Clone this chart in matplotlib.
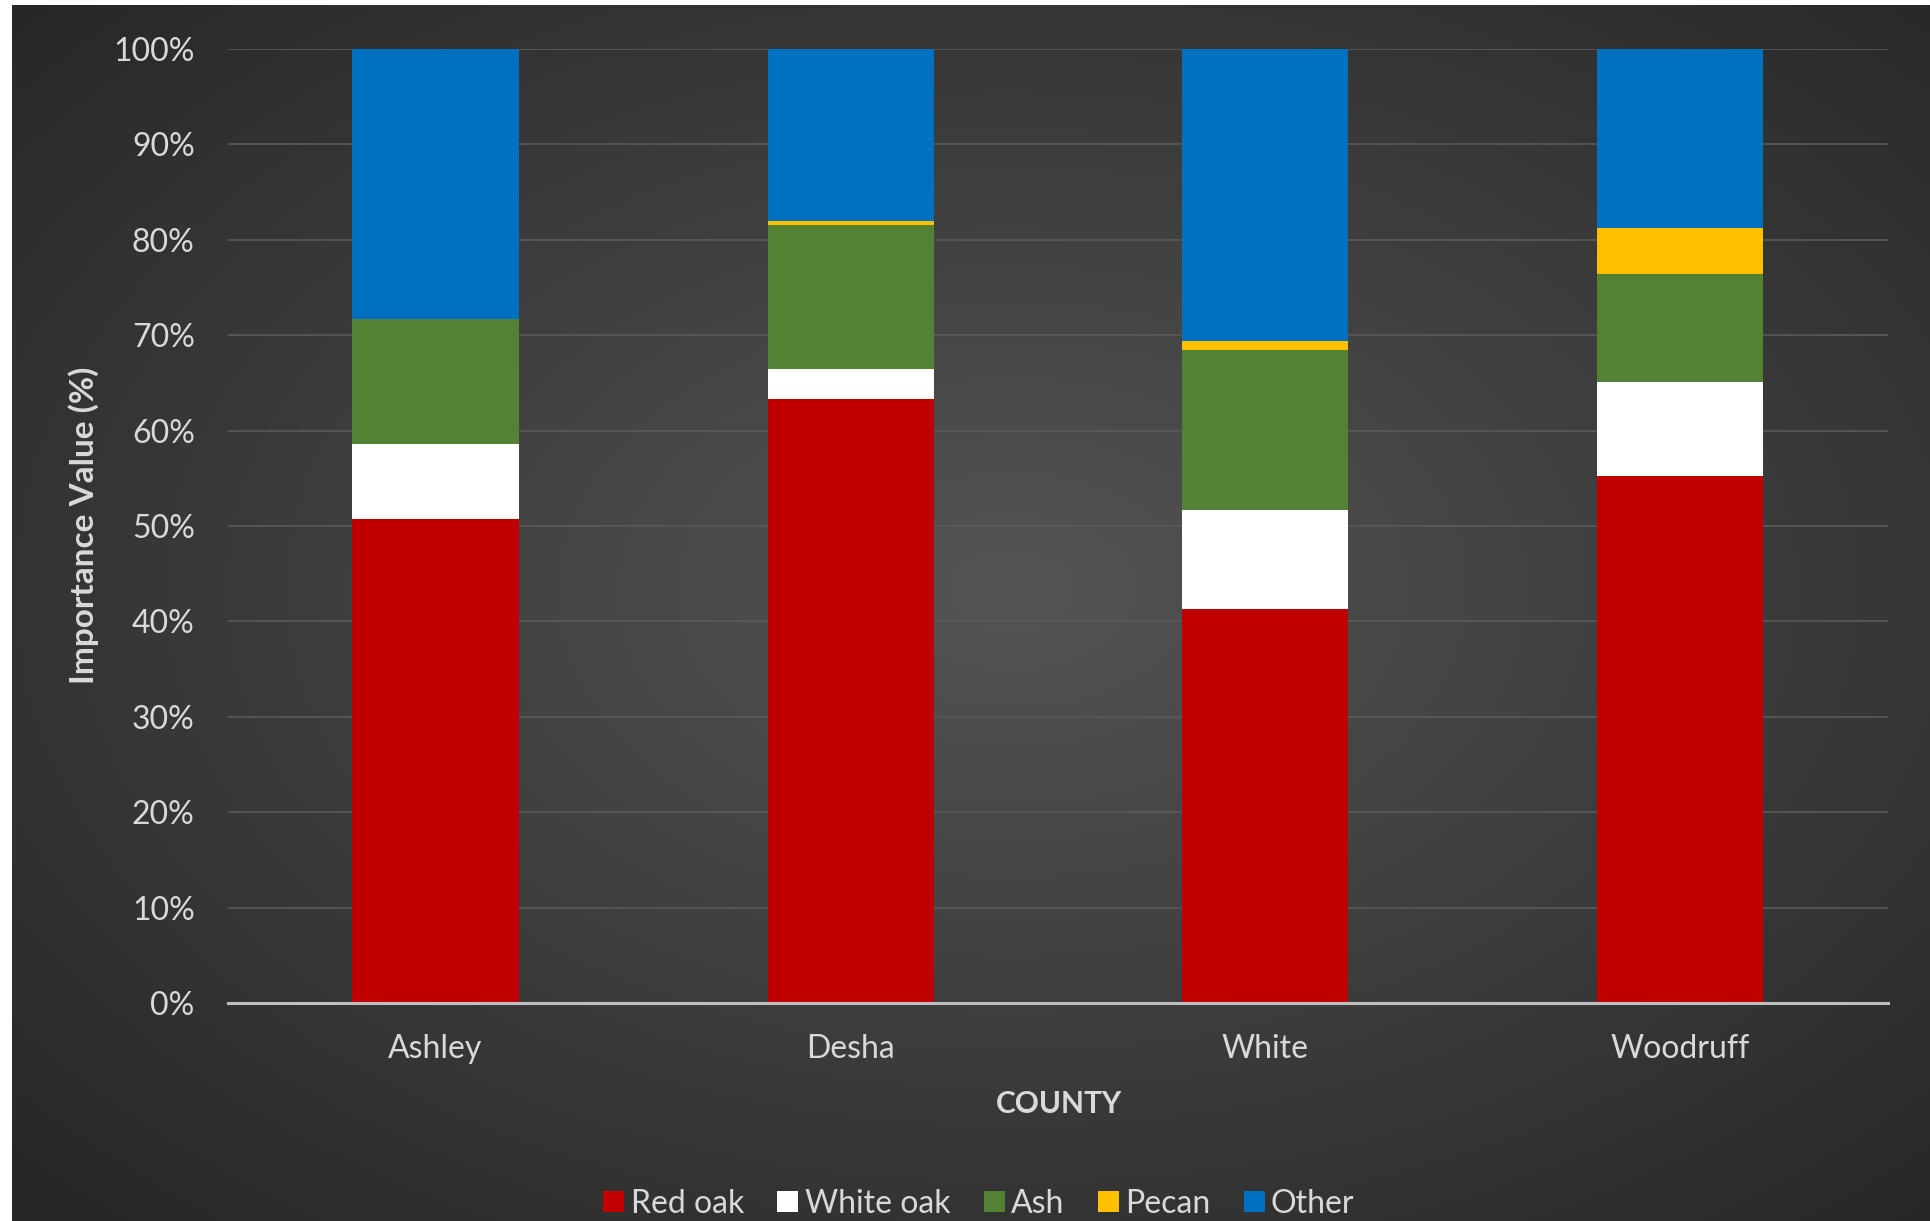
import numpy as np
import matplotlib
matplotlib.use("Agg")
import matplotlib.pyplot as plt
from matplotlib.patches import Patch

counties = ['Ashley', 'Desha', 'White', 'Woodruff']
series_names = ['Red oak', 'White oak', 'Ash', 'Pecan', 'Other']
red_oak = [50.7, 63.3, 41.3, 55.2]
white_oak = [7.9, 3.2, 10.4, 9.9]
ash = [13.1, 15.1, 16.7, 11.3]
pecan = [0.0, 0.4, 1.0, 4.8]
other = [28.3, 18.0, 30.6, 18.8]
colors = ['#c00000', '#ffffff', '#548235', '#ffc000', '#0070c0']
yticks = [0, 10, 20, 30, 40, 50, 60, 70, 80, 90, 100]

plt.rcParams['font.family'] = ['Lato', 'DejaVu Sans']
txt = '#d9d9d9'

W, H = 1931, 1221
fig = plt.figure(figsize=(W / 100, H / 100), dpi=100)
fig.patch.set_facecolor('white')

# background radial gradient (leave thin white strip at left/top)
bg = fig.add_axes([12 / W, 0, 1 - 12 / W, 1 - 5 / H], zorder=-10)
yy, xx = np.mgrid[0:300, 0:480]
cx, cy = 0.52 * 480, 0.48 * 300
r = np.sqrt(((xx - cx) / 480) ** 2 + ((yy - cy) / 300) ** 2) / 0.72
r = np.clip(r, 0, 1)
c0, c1 = np.array([0.33, 0.33, 0.33]), np.array([0.15, 0.15, 0.15])
img = c0[None, None, :] * (1 - r[..., None]) + c1[None, None, :] * r[..., None]
bg.imshow(img, aspect='auto', extent=[0, 1, 0, 1])
bg.axis('off')

ax = fig.add_axes([228 / W, 1 - 1003 / H, (1888 - 228) / W, (1003 - 49) / H])
ax.set_facecolor('none')

x = np.arange(len(counties))
data = [red_oak, white_oak, ash, pecan, other]
bottom = np.zeros(len(counties))
for name, vals, col in zip(series_names, data, colors):
    v = np.array(vals)
    ax.bar(x, v, 0.40, bottom=bottom, color=col, edgecolor='none', zorder=3, label=name)
    bottom += v

ax.set_xlim(-0.5, 3.5)
ax.set_ylim(0, 100)
ax.set_yticks(yticks)
ax.set_yticklabels([f'{t}%' for t in yticks])
ax.set_xticks(x)
ax.set_xticklabels(counties)
ax.tick_params(axis='both', length=0, colors=txt, labelsize=23)
ax.tick_params(axis='y', pad=24)
ax.tick_params(axis='x', pad=22)
ax.grid(axis='y', color='#5a5a5a', linewidth=1.2, zorder=0)
ax.set_axisbelow(True)
for s in ['top', 'right', 'left']:
    ax.spines[s].set_visible(False)
ax.spines['bottom'].set_color('#bfbfbf')
ax.spines['bottom'].set_linewidth(2.2)
ax.spines['bottom'].set_zorder(4)

fig.text(84 / W, 1 - 525 / H, 'Importance Value (%)', rotation=90, ha='center', va='center',
         color=txt, fontsize=24, fontweight='bold')
fig.text(1059 / W, 1 - 1104 / H, 'COUNTY', ha='center', va='center',
         color=txt, fontsize=21.5, fontweight='bold')

handles = [Patch(facecolor=c, edgecolor='none') for c in colors]
leg = fig.legend(handles, series_names, loc='center', bbox_to_anchor=(979 / W, 1 - 1204 / H),
                 ncol=5, frameon=False, fontsize=23, handlelength=0.65, handleheight=0.65,
                 handletextpad=0.2, columnspacing=1.05, labelcolor=txt)

fig.savefig('out.png', dpi=100, facecolor=fig.get_facecolor())
